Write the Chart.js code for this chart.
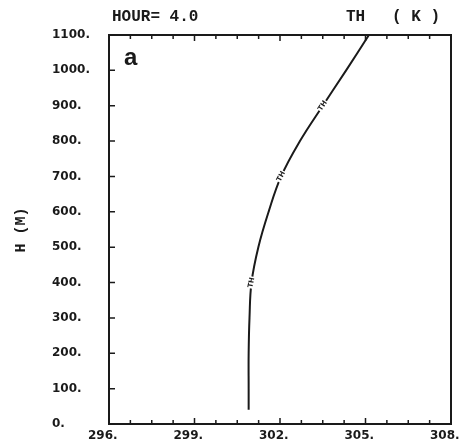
<!DOCTYPE html>
<html>
<head>
<meta charset="utf-8">
<script src="https://cdn.jsdelivr.net/npm/chart.js@4/dist/chart.umd.min.js"></script>
<style>
  html, body { margin: 0; padding: 0; background: #fff; }
  #wrap { width: 460px; height: 448px; }
</style>
</head>
<body>
<div id="wrap"><canvas id="c"></canvas></div>
<script>
// height (m) and potential temperature (K), hour 4.0
const heights = [40, 100, 200, 300, 400, 500, 600, 700, 800, 900, 1000, 1100];
const theta = [300.9, 300.9, 300.9, 300.93, 301.0, 301.24, 301.6, 302.04, 302.7, 303.5, 304.32, 305.12];
const labelIdx = [4, 7, 9];   // where the "TH" marks sit on the line
const xMin = 296, xMax = 308, xStep = 0.75, xLabelEvery = 3;
const yMin = 0, yMax = 1100, yStep = 100;

const tickFont = { family: 'DejaVu Sans', size: 12, weight: 'bold' };
const ink = '#1a1a1a';

const framePlugin = {
    id: 'frame',
    afterDraw(chart) {
        const ctx = chart.ctx;
        const a = chart.chartArea;
        const xs = chart.scales.x, ys = chart.scales.y;
        ctx.save();
        ctx.strokeStyle = ink;
        ctx.lineWidth = 2;
        ctx.strokeRect(a.left, a.top, a.right - a.left, a.bottom - a.top);

        ctx.lineWidth = 1.5;
        ctx.beginPath();
        xs.ticks.forEach(t => {
            const px = xs.getPixelForValue(t.value);
            const len = t.label ? 6 : 4;
            ctx.moveTo(px, a.bottom); ctx.lineTo(px, a.bottom - len);
            ctx.moveTo(px, a.top); ctx.lineTo(px, a.top + len);
        });
        ys.ticks.forEach(t => {
            const py = ys.getPixelForValue(t.value);
            ctx.moveTo(a.left, py); ctx.lineTo(a.left + 6, py);
        });
        ctx.stroke();

        // texts
        ctx.fillStyle = ink;
        ctx.textBaseline = 'middle';
        ctx.font = 'bold 16px "Liberation Mono"';
        ctx.textAlign = 'left';
        ctx.fillText('HOUR= 4.0', 112, 17);
        ctx.fillText('TH', 346, 17);
        ctx.fillText('( K )', 392, 17);

        ctx.font = 'bold 24px "Liberation Sans"';
        ctx.fillText('a', 124, 58);

        ctx.save();
        ctx.translate(21, 230);
        ctx.rotate(-Math.PI / 2);
        ctx.textAlign = 'center';
        ctx.font = 'bold 15px "Liberation Mono"';
        ctx.fillText('H (M)', 0, 0);
        ctx.restore();

        // contour style labels on the line
        const pts = chart.getDatasetMeta(0).data;
        labelIdx.forEach(i => {
            const p = pts[i], q = pts[i + 1] || pts[i - 1];
            const ang = Math.atan2(q.y - p.y, q.x - p.x);
            ctx.save();
            ctx.translate(p.x, p.y);
            ctx.rotate(ang);
            ctx.fillStyle = '#fff';
            ctx.fillRect(-6, -3, 12, 6);
            ctx.fillStyle = ink;
            ctx.font = 'bold 7px "DejaVu Sans"';
            ctx.textAlign = 'center';
            ctx.fillText('TH', 0, 0);
            ctx.restore();
        });
        ctx.restore();
    }
};

new Chart(document.getElementById('c'), {
    type: 'scatter',
    data: {
        datasets: [{
            data: heights.map((h, i) => ({ x: theta[i], y: h })),
            showLine: true,
            borderColor: ink,
            borderWidth: 2,
            pointRadius: 0,
            tension: 0.4
        }]
    },
    options: {
        responsive: true,
        maintainAspectRatio: false,
        animation: false,
        layout: { padding: { left: 52, right: 9, top: 35, bottom: 0 } },
        plugins: { legend: { display: false }, tooltip: { enabled: false } },
        scales: {
            x: {
                type: 'linear',
                min: xMin, max: xMax,
                grid: { display: false },
                border: { display: false },
                afterFit(s) { s.height = 24; s.paddingLeft = 0; s.paddingRight = 0; },
                ticks: {
                    stepSize: xStep,
                    autoSkip: false,
                    maxRotation: 0,
                    padding: -3,
                    color: ink,
                    font: tickFont,
                    // trailing spaces nudge the label left of its tick, like the original
                    callback: v => {
                        const k = (v - xMin) / xLabelEvery;
                        return Math.abs(k - Math.round(k)) < 1e-6 ? v + '.   ' : '';
                    }
                }
            },
            y: {
                type: 'linear',
                min: yMin, max: yMax,
                grid: { display: false },
                border: { display: false },
                afterFit(s) { s.width = 57; s.paddingTop = 0; s.paddingBottom = 0; },
                ticks: {
                    stepSize: yStep,
                    crossAlign: 'far',
                    color: ink,
                    font: tickFont,
                    callback: v => v + '.'
                }
            }
        }
    },
    plugins: [framePlugin]
});
</script>
</body>
</html>
